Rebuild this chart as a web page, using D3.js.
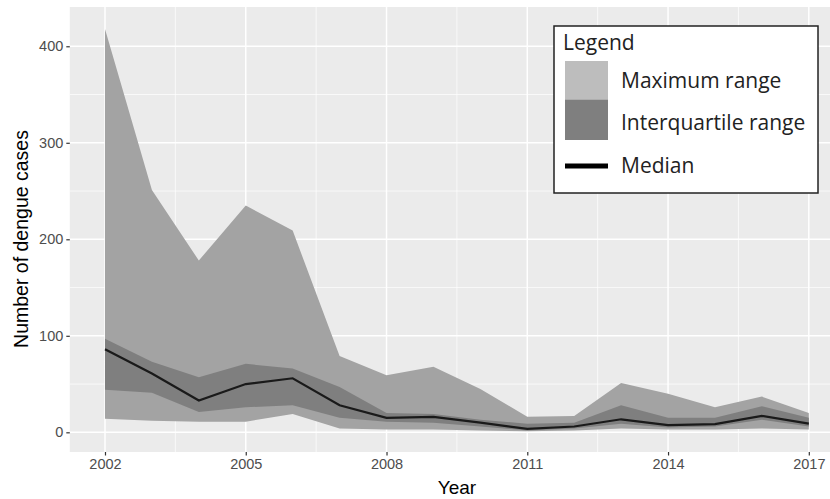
<!DOCTYPE html>
<html>
<head>
<meta charset="utf-8">
<script src="https://cdn.jsdelivr.net/npm/d3@7"></script>
<style>
  body { margin: 0; background: #fff; }
  svg { display: block; }
</style>
</head>
<body>
<div class="chart"></div>
<script>
// data
var years = [2002, 2003, 2004, 2005, 2006, 2007, 2008, 2009, 2010, 2011, 2012, 2013, 2014, 2015, 2016, 2017];
var maxCases = [418, 251, 178, 235, 209, 79, 59, 68, 45, 16, 17, 51, 40, 26, 37, 20];
var q3Cases  = [97, 73, 57, 71, 66, 47, 20, 19, 13, 9, 10, 28, 15, 15, 27, 15];
var medCases = [86, 61, 33, 50, 56, 28, 15, 16, 10, 3.5, 6, 13.5, 7.5, 8.5, 17, 9];
var q1Cases  = [44, 41, 21, 26, 28, 15, 11, 10, 6, 2, 4, 9, 5, 6, 13, 6];
var minCases = [14, 12, 11, 11, 19, 4, 3, 3, 2, 1, 2, 4, 3, 3, 4, 3];

var xTicks = [2002, 2005, 2008, 2011, 2014, 2017];
var yTicks = [0, 100, 200, 300, 400];
var legendLabels = ["Maximum range", "Interquartile range", "Median"];

var width = 830;
var height = 499;
var panel = {left: 69.8, right: 844, top: 7, bottom: 452};

var bgColor = '#EBEBEB';
var maxColor = '#A3A3A3';
var iqrColor = '#7F7F7F';
var medColor = '#1A1A1A';

var svg = d3.select(".chart")
            .append("svg")
            .attr("width", width)
            .attr("height", height);

var xScale = d3.scaleLinear()
               .domain([2001.25, 2017.75])
               .range([panel.left, panel.right]);
var yScale = d3.scaleLinear()
               .domain([-20.4, 440.7])
               .range([panel.bottom, panel.top]);

// panel background + grid
svg.append("rect")
   .attr("x", panel.left)
   .attr("y", panel.top)
   .attr("width", panel.right - panel.left)
   .attr("height", panel.bottom - panel.top)
   .attr("fill", bgColor);

var minorY = [50, 150, 250, 350];
var minorX = [2003.5, 2006.5, 2009.5, 2012.5, 2015.5];

svg.selectAll(".minor-y")
   .data(minorY).enter()
   .append("line")
   .attr("x1", panel.left).attr("x2", panel.right)
   .attr("y1", d => yScale(d)).attr("y2", d => yScale(d))
   .attr("stroke", "#fff").attr("stroke-width", 0.7);
svg.selectAll(".minor-x")
   .data(minorX).enter()
   .append("line")
   .attr("y1", panel.top).attr("y2", panel.bottom)
   .attr("x1", d => xScale(d)).attr("x2", d => xScale(d))
   .attr("stroke", "#fff").attr("stroke-width", 0.7);
svg.selectAll(".major-y")
   .data(yTicks).enter()
   .append("line")
   .attr("x1", panel.left).attr("x2", panel.right)
   .attr("y1", d => yScale(d)).attr("y2", d => yScale(d))
   .attr("stroke", "#fff").attr("stroke-width", 1.5);
svg.selectAll(".major-x")
   .data(xTicks).enter()
   .append("line")
   .attr("y1", panel.top).attr("y2", panel.bottom)
   .attr("x1", d => xScale(d)).attr("x2", d => xScale(d))
   .attr("stroke", "#fff").attr("stroke-width", 1.5);

// ribbons
var rows = years.map((y, i) => ({year: y, min: minCases[i], q1: q1Cases[i], med: medCases[i], q3: q3Cases[i], max: maxCases[i]}));

var maxArea = d3.area()
                .x(d => xScale(d.year))
                .y0(d => yScale(d.min))
                .y1(d => yScale(d.max));
var iqrArea = d3.area()
                .x(d => xScale(d.year))
                .y0(d => yScale(d.q1))
                .y1(d => yScale(d.q3));
var medLine = d3.line()
                .x(d => xScale(d.year))
                .y(d => yScale(d.med));

svg.append("path").datum(rows).attr("d", maxArea).attr("fill", maxColor);
svg.append("path").datum(rows).attr("d", iqrArea).attr("fill", iqrColor);
svg.append("path").datum(rows).attr("d", medLine)
   .attr("fill", "none").attr("stroke", medColor).attr("stroke-width", 2.2);

// axes
var xAxis = d3.axisBottom(xScale).tickValues(xTicks).tickFormat(d3.format("d")).tickSize(3.5).tickPadding(3);
var yAxis = d3.axisLeft(yScale).tickValues(yTicks).tickSize(3.5).tickPadding(3);

var gx = svg.append("g")
   .attr("id", "x-axis")
   .attr("transform", "translate(0," + panel.bottom + ")")
   .call(xAxis);
var gy = svg.append("g")
   .attr("id", "y-axis")
   .attr("transform", "translate(" + panel.left + ",0)")
   .call(yAxis);

[gx, gy].forEach(g => {
  g.select(".domain").remove();
  g.selectAll(".tick line").attr("stroke", "#333").attr("stroke-width", 1.2);
  g.selectAll(".tick text")
   .attr("fill", "#4D4D4D")
   .style("font-family", "'Liberation Sans', Arial, sans-serif")
   .style("font-size", "14.5px");
});

// axis titles
svg.append("text")
   .attr("x", (panel.left + panel.right) / 2)
   .attr("y", 494)
   .attr("text-anchor", "middle")
   .style("font-family", "'Liberation Sans', Arial, sans-serif")
   .style("font-size", "19px")
   .text("Year");

svg.append("g")
   .attr("transform", "translate(" + 28 + "," + 239 + ")")
   .append("text")
   .attr("text-anchor", "middle")
   .attr("transform", "rotate(-90)")
   .style("font-family", "'Liberation Sans', Arial, sans-serif")
   .style("font-size", "19.5px")
   .text("Number of dengue cases");

// legend
var lg = svg.append("g").attr("id", "legend");
lg.append("rect")
  .attr("x", 554).attr("y", 26)
  .attr("width", 264).attr("height", 167)
  .attr("fill", "#fff")
  .attr("stroke", "#222").attr("stroke-width", 1.5);
lg.append("text")
  .attr("x", 563).attr("y", 50)
  .style("font-family", "'Open Sans', sans-serif")
  .style("font-size", "21px")
  .attr("fill", "#222")
  .text("Legend");
lg.append("rect")
  .attr("x", 565).attr("y", 61).attr("width", 43).attr("height", 38.5)
  .attr("fill", "#BDBDBD");
lg.append("rect")
  .attr("x", 565).attr("y", 99.5).attr("width", 43).attr("height", 40.5)
  .attr("fill", iqrColor);
lg.append("line")
  .attr("x1", 565).attr("x2", 608).attr("y1", 166).attr("y2", 166)
  .attr("stroke", "#000").attr("stroke-width", 5);
lg.selectAll(".lab")
  .data(legendLabels).enter()
  .append("text")
  .attr("x", 621)
  .attr("y", (d, i) => [88, 130, 173][i])
  .style("font-family", "'Open Sans', sans-serif")
  .style("font-size", "21px")
  .attr("fill", "#222")
  .text(d => d);
</script>
</body>
</html>
